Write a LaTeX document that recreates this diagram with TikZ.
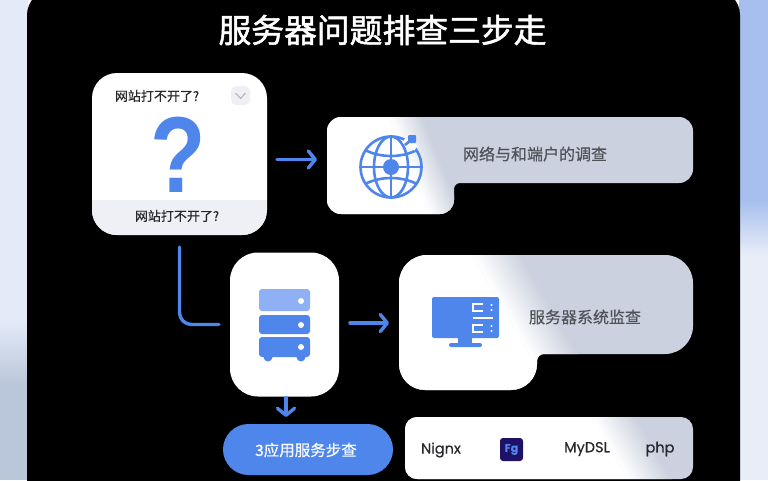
\documentclass[tikz,border=0pt]{standalone}
\usepackage{fontspec}
\setmainfont{Noto Sans CJK SC}[FakeBold=0.3]
\newfontfamily\latinfont{Poppins}[FakeBold=0.3]
\newfontfamily\markfont{Liberation Sans}[FakeBold=0]
\usetikzlibrary{arrows.meta, calc}
\definecolor{iconblue}{HTML}{4F86EC}
\definecolor{lightblue}{HTML}{8FB0F4}
\definecolor{cardgrey}{HTML}{CBD1DE}
\definecolor{stripgrey}{HTML}{EEF0F5}
\definecolor{textgrey}{HTML}{4F5358}
\definecolor{darktext}{HTML}{26282C}
\definecolor{fgnavy}{HTML}{1F1165}
\definecolor{skyleft}{HTML}{E3EAF8}
\definecolor{skyleftlow}{HTML}{BAC6D9}
\definecolor{skyright}{HTML}{A6BFEE}
\definecolor{skyrightlow}{HTML}{E8EDF8}
\tikzset{
  txt/.style={font=\fontsize{#1}{#1}\selectfont, inner sep=0pt},
  tooltxt/.style={inner sep=0pt, darktext, font=\fontsize{14.5}{14.5}\selectfont\latinfont},
  card/.style={fill=white, inner sep=0pt, outer sep=0pt},
  flow/.style={->, iconblue, line width=3.4pt, line cap=round, >={Straight Barb[length=7pt,width=17pt,round]}},
  iconline/.style={iconblue, line width=2.6pt},
}
% card with a white part, a slanted soft edge and a grey part
\newcommand{\softcard}[4]{
  \begin{scope}
    \clip #1;
    \fill[cardgrey] (0,0) rectangle (768,480);
    \begin{scope}[transform canvas={rotate around={#3:#2}}]
      \fill[white] ($#2+(-700,-400)$) rectangle ($#2+(0,400)$);
      \shade[left color=white, right color=cardgrey] ($#2+(0,-400)$) rectangle ($#2+(#4,400)$);
    \end{scope}
  \end{scope}
}
\begin{document}
\begin{tikzpicture}[x=1pt, y=-1pt]
  \useasboundingbox (0,0) rectangle (768,480);
  \clip (0,0) rectangle (768,480);

  % Draw the backdrop
  \fill[skyleft] (0,0) rectangle (28,320);
  \shade[top color=skyleft, bottom color=skyleftlow] (0,320) rectangle (28,385);
  \fill[skyleftlow] (0,385) rectangle (28,480);
  \fill[skyright] (739,0) rectangle (768,200);
  \shade[top color=skyright, bottom color=skyrightlow] (739,200) rectangle (768,255);
  \fill[skyrightlow] (739,255) rectangle (768,480);
  \fill[black, rounded corners=25] (27,-10) rectangle (740,510);

  \node[inner sep=0pt, white, font=\fontsize{32.8}{32.8}\selectfont\addfontfeature{FakeBold=1.6}] (title) at (382.5,30) {服务器问题排查三步走};

  % Question card
  \node[card, rounded corners=25, minimum width=175pt, minimum height=162pt,
    path picture={\fill[stripgrey, sharp corners] (path picture bounding box.south west) rectangle ([yshift=35pt]path picture bounding box.south east);}]
    (qcard) at (179.5,154) {};
  \node[txt=13, darktext] (qhead) at (157,96) {网站打不开了?};
  \node[fill=stripgrey, rounded corners=5pt, minimum size=19pt, inner sep=0pt] (qbutton) at (240.5,95.5) {};
  \draw[black!30, line width=1pt] (235.5,93) -- (240.5,98.5) -- (245.5,93);
  \node[iconblue, inner sep=0pt, xscale=0.84, transform shape, font=\fontsize{108}{108}\selectfont\bfseries\markfont] (qmark) at (178,154.5) {?};
  \node[txt=13, darktext] (qfoot) at (177,216) {网站打不开了?};

  % Network card
  \softcard{[rounded corners=14] (327,165) -- (327,117) -- (693,117) -- (693,183) [rounded corners=6] -- (454,183) [rounded corners=14] -- (454,214) -- (327,214) -- cycle}{(390,117)}{22}{30}
  \coordinate (netport) at (327,159.5);
  \node[txt=16, textgrey] (nettext) at (535,154) {网络与和端户的调查};

  % Globe
  \def\gx{391}
  \def\gy{167}
  \draw[iconline] (\gx,\gy) circle [radius=30.5];
  \draw[iconline] (\gx,\gy) ellipse [x radius=17, y radius=30.5];
  \draw[iconline] (\gx,\gy-30) -- (\gx,\gy+30);
  \draw[iconline] (\gx-30,\gy) -- (\gx+30,\gy);
  \draw[iconline] (\gx-26,\gy-17) .. controls (\gx-10,\gy-9) and (\gx+10,\gy-9) .. (\gx+26,\gy-17);
  \draw[iconline] (\gx-26,\gy+17) .. controls (\gx-10,\gy+9) and (\gx+10,\gy+9) .. (\gx+26,\gy+17);
  \fill[iconblue] (\gx,\gy) circle [radius=8];
  \draw[white, line width=6pt] (\gx+13,\gy-27) -- (\gx+25,\gy-19);
  \draw[iconline] (\gx+14,\gy-22) -- (\gx+20,\gy-27);
  \fill[iconblue, rounded corners=1pt] (\gx+17,\gy-32) rectangle (\gx+25,\gy-24);

  % Server card
  \node[card, rounded corners=28, minimum width=109pt, minimum height=144pt] (srvcard) at (284.5,324.5) {};
  \fill[lightblue, rounded corners=3pt] (259,289) rectangle (310,311);
  \fill[iconblue] (268,357) circle [radius=4.5] (301,357) circle [radius=4.5];
  \fill[iconblue, rounded corners=3pt] (259,315) rectangle (310,334);
  \fill[iconblue, rounded corners=3pt] (259,337) rectangle (310,357);
  \foreach \y in {301,325,347}
    \fill[white] (301,\y) circle [radius=3];

  % Monitor card
  \softcard{[rounded corners=28] (399,320) -- (399,255) -- (693,255) -- (693,354) [rounded corners=7] -- (537,354) [rounded corners=26] -- (537,390) -- (399,390) -- cycle}{(472,255)}{30}{42}
  \coordinate (monport) at (399,323);
  \node[txt=16, textgrey] (montext) at (585,317) {服务器系统监查};
  \fill[iconblue, rounded corners=2pt] (432,297) rectangle (499,338);
  \fill[iconblue] (458,338) rectangle (472,344);
  \fill[iconblue, rounded corners=2pt] (449,343) rectangle (482,347);
  \draw[white, line width=1.3pt] (483,304) -- (473,304) -- (473,311) -- (483,311);
  \draw[white, line width=1.3pt] (473,318) -- (493,318);
  \draw[white, line width=1.3pt] (483,325) -- (473,325) -- (473,332) -- (483,332);
  \foreach \y in {305,310,326,331}
    \fill[white] (491.5,\y) circle [radius=1.2];

  % Application row
  \node[fill=iconblue, rounded corners=25.5, minimum width=170pt, minimum height=51pt, inner sep=0pt] (apppill) at (308,449.5) {};
  \coordinate (pillport) at (286,424);
  \node[txt=15.5, white] (apptext) at (306,450) {3应用服务步查};

  \softcard{[rounded corners=12] (405,440) -- (405,417) -- (693,417) -- (693,479) -- (405,479) -- cycle}{(592,417)}{30}{38}
  \node[tooltxt] (nignx) at (441,450) {Nignx};
  \node[fill=fgnavy, text=iconblue, rounded corners=3pt, minimum size=23pt, inner sep=0pt, font=\fontsize{11}{11}\selectfont\bfseries\latinfont] (fgicon) at (511.5,449.5) {Fg};
  \node[tooltxt] (mydsl) at (587,449) {MyDSL};
  \node[tooltxt] (phplabel) at (660,449) {php};

  % Connectors
  \draw[flow, shorten <=10pt, shorten >=10pt] (qcard.east |- netport) -- (netport);
  \draw[iconblue, line width=3.4pt, line cap=round, rounded corners=12, shorten <=12pt, shorten >=11pt] (qcard.south) |- (srvcard.west);
  \draw[flow, shorten <=11pt, shorten >=10pt] (srvcard.east |- monport) -- (monport);
  \draw[flow, shorten <=1pt, shorten >=7pt] (srvcard.south -| pillport) -- (pillport);
\end{tikzpicture}
\end{document}
